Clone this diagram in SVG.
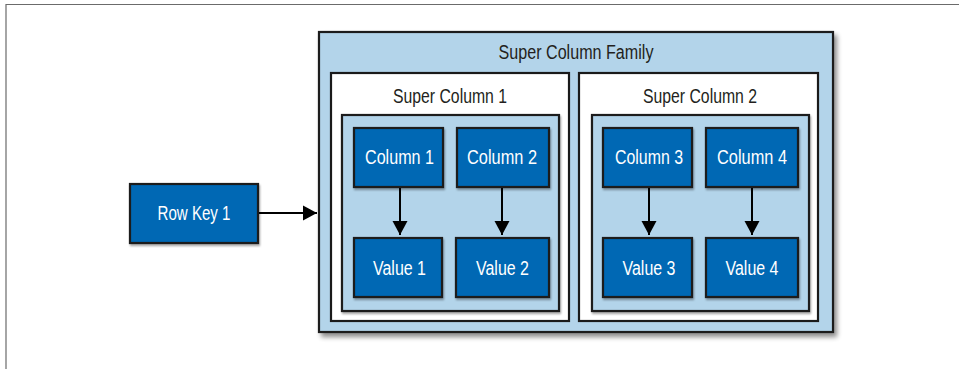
<svg xmlns="http://www.w3.org/2000/svg" width="959" height="369" viewBox="0 0 959 369">
<style>
.frame{fill:none;stroke:#6b6b6b;stroke-width:1.2}
.family{fill:#b3d4ea;stroke:#1a1a1a;stroke-width:2.2}
.sc{fill:#ffffff;stroke:#1a1a1a;stroke-width:2.2}
.inner{fill:#b3d4ea;stroke:#1a1a1a;stroke-width:2.2}
.node{fill:#0068b4;stroke:#1a1a1a;stroke-width:2.2}
.lbl{font-family:"Liberation Sans",Arial,sans-serif;font-size:20px;fill:#231f20;text-anchor:middle}
.wlbl{font-family:"Liberation Sans",Arial,sans-serif;font-size:20px;fill:#ffffff;text-anchor:middle}
.conn{stroke:#000;stroke-width:2;fill:none}
</style>
<defs>
<filter id="sh" x="-10%" y="-10%" width="125%" height="125%">
<feGaussianBlur in="SourceAlpha" stdDeviation="2.5"/>
<feOffset dx="3" dy="4" result="b"/>
<feComponentTransfer><feFuncA type="linear" slope="0.45"/></feComponentTransfer>
<feMerge><feMergeNode/><feMergeNode in="SourceGraphic"/></feMerge>
</filter>
<filter id="shs" x="-10%" y="-10%" width="125%" height="125%">
<feGaussianBlur in="SourceAlpha" stdDeviation="1"/>
<feOffset dx="1" dy="1.5" result="b"/>
<feComponentTransfer><feFuncA type="linear" slope="0.35"/></feComponentTransfer>
<feMerge><feMergeNode/><feMergeNode in="SourceGraphic"/></feMerge>
</filter>
<marker id="ah" markerUnits="userSpaceOnUse" markerWidth="16" markerHeight="16" viewBox="0 0 14 16" refX="14" refY="8" orient="auto">
<path d="M0,0.5 L14,8 L0,15.5 Z" fill="#000"/>
</marker>
</defs>
<path class="frame" d="M6,369 V4.5 H959"/>
<g id="super-column-family">
<rect class="family" x="319" y="32" width="514" height="300" filter="url(#sh)"/>
<text class="lbl" x="576" y="59" textLength="155" lengthAdjust="spacingAndGlyphs">Super Column Family</text>
</g>
<g id="super-column-1">
<rect class="sc" x="331" y="73" width="238" height="248"/>
<text class="lbl" x="450" y="103" textLength="114" lengthAdjust="spacingAndGlyphs">Super Column 1</text>
<rect class="inner" x="342" y="115" width="217" height="196" filter="url(#shs)"/>
</g>
<g id="super-column-2">
<rect class="sc" x="579" y="73" width="239" height="248"/>
<text class="lbl" x="700" y="103" textLength="114" lengthAdjust="spacingAndGlyphs">Super Column 2</text>
<rect class="inner" x="592" y="115" width="217" height="196" filter="url(#shs)"/>
</g>
<g id="row-key-1">
<rect class="node" x="130" y="184" width="128" height="59" filter="url(#shs)"/>
<text class="wlbl" x="194" y="220" textLength="73" lengthAdjust="spacingAndGlyphs">Row Key 1</text>
</g>
<g id="column-1">
<rect class="node" x="354" y="128" width="89" height="59" filter="url(#shs)"/>
<text class="wlbl" x="399.5" y="164" textLength="69" lengthAdjust="spacingAndGlyphs">Column 1</text>
</g>
<g id="column-2">
<rect class="node" x="457" y="128" width="92" height="59" filter="url(#shs)"/>
<text class="wlbl" x="502" y="164" textLength="70" lengthAdjust="spacingAndGlyphs">Column 2</text>
</g>
<g id="column-3">
<rect class="node" x="603" y="128" width="89" height="59" filter="url(#shs)"/>
<text class="wlbl" x="649" y="164" textLength="68" lengthAdjust="spacingAndGlyphs">Column 3</text>
</g>
<g id="column-4">
<rect class="node" x="706" y="128" width="92" height="59" filter="url(#shs)"/>
<text class="wlbl" x="752" y="164" textLength="70" lengthAdjust="spacingAndGlyphs">Column 4</text>
</g>
<g id="value-1">
<rect class="node" x="354" y="238" width="88" height="59" filter="url(#shs)"/>
<text class="wlbl" x="399.5" y="275" textLength="53" lengthAdjust="spacingAndGlyphs">Value 1</text>
</g>
<g id="value-2">
<rect class="node" x="456" y="238" width="93" height="59" filter="url(#shs)"/>
<text class="wlbl" x="502.5" y="275" textLength="53" lengthAdjust="spacingAndGlyphs">Value 2</text>
</g>
<g id="value-3">
<rect class="node" x="603" y="238" width="89" height="59" filter="url(#shs)"/>
<text class="wlbl" x="649" y="275" textLength="53" lengthAdjust="spacingAndGlyphs">Value 3</text>
</g>
<g id="value-4">
<rect class="node" x="706" y="238" width="92" height="59" filter="url(#shs)"/>
<text class="wlbl" x="752" y="275" textLength="53" lengthAdjust="spacingAndGlyphs">Value 4</text>
</g>
<g id="connectors">
<line class="conn" x1="259" y1="213" x2="317" y2="213" marker-end="url(#ah)"/>
<line class="conn" x1="400" y1="188" x2="400" y2="235" marker-end="url(#ah)"/>
<line class="conn" x1="502" y1="188" x2="502" y2="235" marker-end="url(#ah)"/>
<line class="conn" x1="649" y1="188" x2="649" y2="235" marker-end="url(#ah)"/>
<line class="conn" x1="752" y1="188" x2="752" y2="235" marker-end="url(#ah)"/>
</g>
</svg>
